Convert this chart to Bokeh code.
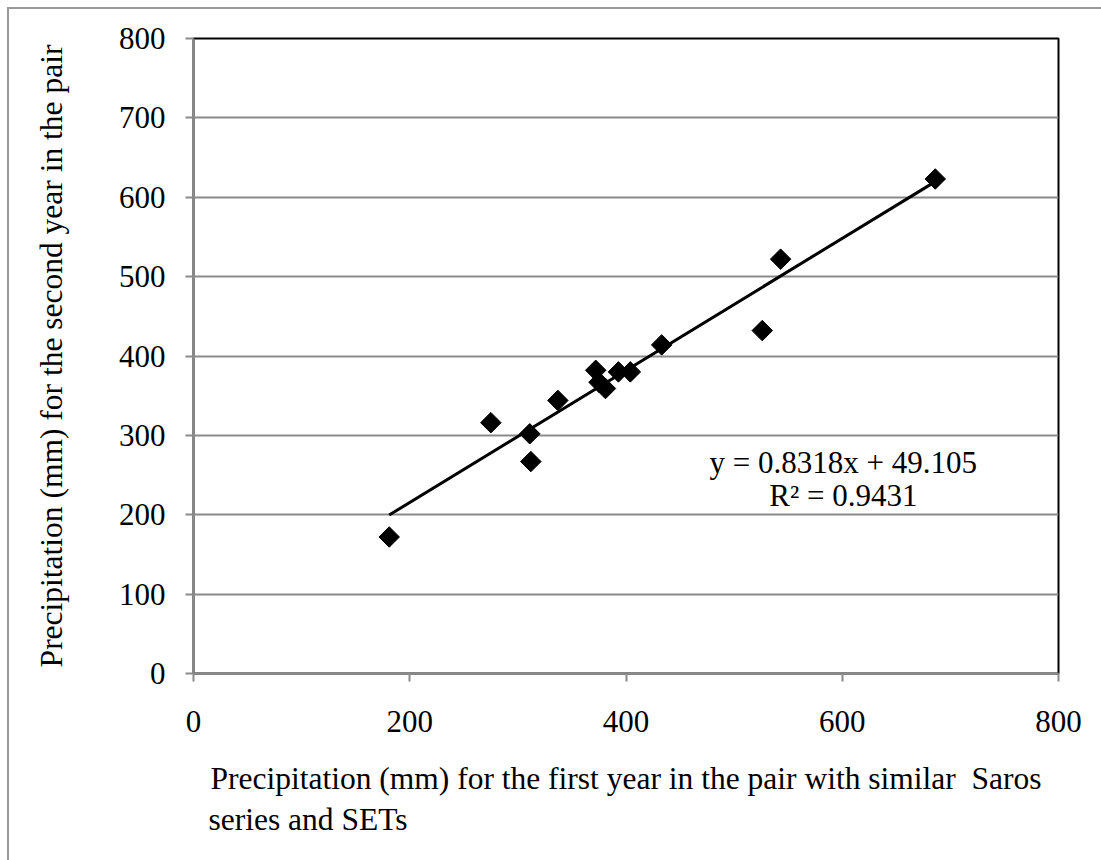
from bokeh.plotting import figure
from bokeh.models import FixedTicker, Label, Title
from bokeh.embed import file_html
from bokeh.resources import INLINE
import numpy as np

# Data
first_year = [181, 275, 311, 312, 337, 372, 375, 381, 393, 404, 433, 526, 543, 686]
second_year = [172, 316, 302, 267, 344, 382, 367, 359, 380, 380, 414, 432, 522, 623]
slope = 0.8318
intercept = 49.105
r_squared = 0.9431
x_ticks = [0, 200, 400, 600, 800]
y_ticks = [0, 100, 200, 300, 400, 500, 600, 700, 800]

FONT = "Liberation Serif"
GRAY = "#8a8a8a"

p = figure(width=1101, height=860, x_range=(0, 800), y_range=(0, 800),
           output_backend="svg", toolbar_location=None,
           min_border_left=193, min_border_top=38, min_border_right=43, min_border_bottom=187)
p.border_fill_color = None
p.background_fill_color = "white"
p.styles = {
    "background": "linear-gradient(#9a9a9a,#9a9a9a) 7px 7px / 2px 100% no-repeat, "
                  "linear-gradient(#9a9a9a,#9a9a9a) 7px 7px / 100% 2px no-repeat, white"
}

p.outline_line_color = "black"
p.outline_line_width = 2
p.xgrid.grid_line_color = None
p.ygrid.grid_line_color = GRAY
p.ygrid.grid_line_width = 2

for ax in (p.xaxis[0], p.yaxis[0]):
    ax.axis_line_color = GRAY
    ax.axis_line_width = 2
    ax.major_tick_line_color = GRAY
    ax.major_tick_line_width = 2
    ax.major_tick_out = 8
    ax.major_tick_in = 0
    ax.minor_tick_line_color = None
    ax.major_label_text_font = FONT
    ax.major_label_text_font_size = "31px"
    ax.major_label_text_color = "black"
    ax.axis_label_text_font = FONT
    ax.axis_label_text_font_size = "31.5px"
    ax.axis_label_text_font_style = "normal"
    ax.axis_label_text_color = "black"

p.xaxis.ticker = FixedTicker(ticks=x_ticks)
p.yaxis.ticker = FixedTicker(ticks=y_ticks)
p.xaxis.major_label_standoff = 29
p.yaxis.major_label_standoff = 20
p.xaxis.axis_label = "Precipitation (mm) for the first year in the pair with similar\u00a0\u00a0Saros"
p.xaxis.axis_label_standoff = 26
p.yaxis.axis_label = "Precipitation (mm) for the second year in the pair"
p.yaxis.axis_label_standoff = 47

p.add_layout(Title(text="series and SETs", align="left", offset=15, standoff=2,
                   text_font=FONT, text_font_size="31.5px", text_font_style="normal",
                   text_color="black"), "below")

# trend line
xs = np.array([min(first_year), max(first_year)])
p.line(xs, slope * xs + intercept, line_color="black", line_width=3)

# points
p.scatter(first_year, second_year, marker="square", angle=np.pi / 4, size=14.5,
          fill_color="black", line_color="black")

p.add_layout(Label(x=601, y=266, text=f"y = {slope}x + {intercept}",
                   text_font=FONT, text_font_size="31px", text_baseline="middle",
                   text_align="center", text_color="black"))
p.add_layout(Label(x=601, y=224, text=f"R\u00b2 = {r_squared}",
                   text_font=FONT, text_font_size="31px", text_baseline="middle",
                   text_align="center", text_color="black"))

open("out.html", "w").write(file_html(p, INLINE))
